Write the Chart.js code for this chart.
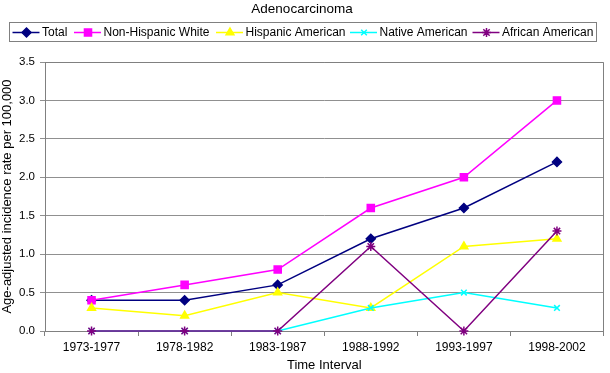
<!DOCTYPE html>
<html><head><meta charset="utf-8">
<script src="https://cdn.jsdelivr.net/npm/chart.js@4/dist/chart.umd.min.js"></script>
<style>html,body{margin:0;padding:0;background:#fff;}#wrap{width:610px;height:373px;}</style>
</head><body><div id="wrap"><canvas id="c" width="610" height="373"></canvas></div>
<script>
const chartTitle = "Adenocarcinoma";
const categories = ["1973-1977","1978-1982","1983-1987","1988-1992","1993-1997","1998-2002"];
const seriesNames = ["Total","Non-Hispanic White","Hispanic American","Native American","African American"];
const totalVals = [0.4, 0.4, 0.6, 1.2, 1.6, 2.2];
const nhwVals = [0.4, 0.6, 0.8, 1.6, 2.0, 3.0];
const hispVals = [0.3, 0.2, 0.5, 0.3, 1.1, 1.2];
const nativeVals = [0, 0, 0, 0.3, 0.5, 0.3];
const africanVals = [0, 0, 0, 1.1, 0, 1.3];
const yTicks = [0, 0.5, 1.0, 1.5, 2.0, 2.5, 3.0, 3.5];
const yTitle = "Age-adjusted incidence rate per 100,000";
const xTitle = "Time Interval";

const FONT = "'Liberation Sans', Arial, sans-serif";
const styles = [
  {color:'#000080', point:'rectRot', r:4.5, fill:'#000080', lw:1.5},
  {color:'#FF00FF', point:'rect', r:5, fill:'#FF00FF', lw:1.5},
  {color:'#FFFF00', point:'triangle', r:4.5, fill:'#FFFF00', lw:1.5},
  {color:'#00FFFF', point:'crossRot', r:4, fill:'#00FFFF', lw:1.5},
  {color:'#800080', point:'star', r:4.5, fill:'#800080', lw:1.5}
];
const values = [totalVals, nhwVals, hispVals, nativeVals, africanVals];
const datasets = seriesNames.map((n,i)=>({
  label:n, data:values[i], borderColor:styles[i].color, backgroundColor:styles[i].fill,
  borderWidth:styles[i].lw, pointStyle:styles[i].point, pointRadius:styles[i].r,
  pointHoverRadius:styles[i].r, pointBorderColor:styles[i].color, pointBackgroundColor:styles[i].fill,
  pointBorderWidth:1.5, tension:0, clip:false, order:seriesNames.length-1-i
}));

const legendX = [12.5, 74, 216, 350, 472.5];
const decor = {
  id:'decor',
  afterDraw(chart){
    const ctx = chart.ctx, a = chart.chartArea;
    ctx.save();
    ctx.strokeStyle = '#808080'; ctx.lineWidth = 1;
    ctx.beginPath();
    ctx.moveTo(Math.round(a.left), Math.round(a.top)+0.5);
    ctx.lineTo(Math.round(a.right)-0.5, Math.round(a.top)+0.5);
    ctx.lineTo(Math.round(a.right)-0.5, Math.round(a.bottom));
    ctx.stroke();
    ctx.fillStyle = '#000'; ctx.font = "13.5px " + FONT;
    ctx.textAlign = 'center'; ctx.textBaseline = 'middle';
    ctx.fillText(chartTitle, 302, 9.5);
    ctx.strokeStyle = '#808080'; ctx.lineWidth = 1;
    ctx.strokeRect(9.5, 22.5, 587, 19);
    ctx.font = "12px " + FONT; ctx.textAlign = 'left';
    const y = 32.5;
    seriesNames.forEach((n,i)=>{
      const s = styles[i], x = legendX[i];
      ctx.strokeStyle = s.color; ctx.lineWidth = s.lw;
      ctx.beginPath(); ctx.moveTo(x, y); ctx.lineTo(x+27, y); ctx.stroke();
      ctx.fillStyle = s.fill; ctx.strokeStyle = s.color; ctx.lineWidth = 1.5;
      Chart.helpers.drawPoint(ctx, {pointStyle:s.point, radius:s.r, rotation:0, borderWidth:1.5}, x+14, y);
      ctx.fillStyle = '#000';
      ctx.fillText(n, x+29.5, y+0.5);
    });
    ctx.restore();
  }
};

new Chart(document.getElementById('c'), {
  type:'line',
  data:{labels:categories, datasets},
  plugins:[decor],
  options:{
    responsive:false, animation:false, devicePixelRatio:1,
    layout:{padding:{top:62, right:2, left:0, bottom:0}},
    plugins:{legend:{display:false}, title:{display:false}, tooltip:{enabled:false}},
    scales:{
      x:{
        offset:true,
        grid:{offset:true, drawOnChartArea:false, drawTicks:true, tickLength:5, color:'#808080'},
        border:{color:'#808080', width:1},
        ticks:{color:'#000', font:{family:FONT, size:12}, padding:4, maxRotation:0, autoSkip:false},
        title:{display:true, text:xTitle, color:'#000', font:{family:FONT, size:13}, padding:{top:0,bottom:0}},
        afterFit(s){ s.height = 42; }
      },
      y:{
        min:0, max:3.5,
        afterBuildTicks(s){ s.ticks = yTicks.map(v=>({value:v})); },
        grid:{color:'#909090', tickLength:5, lineWidth:1},
        border:{color:'#808080', width:1},
        ticks:{color:'#000', font:{family:FONT, size:11.5}, padding:5, callback:v=>Number(v).toFixed(1)},
        title:{display:true, text:yTitle, color:'#000', font:{family:FONT, size:13}, padding:{top:0,bottom:0}},
        afterFit(s){ s.width = 45; }
      }
    }
  }
});
</script>
</body></html>
